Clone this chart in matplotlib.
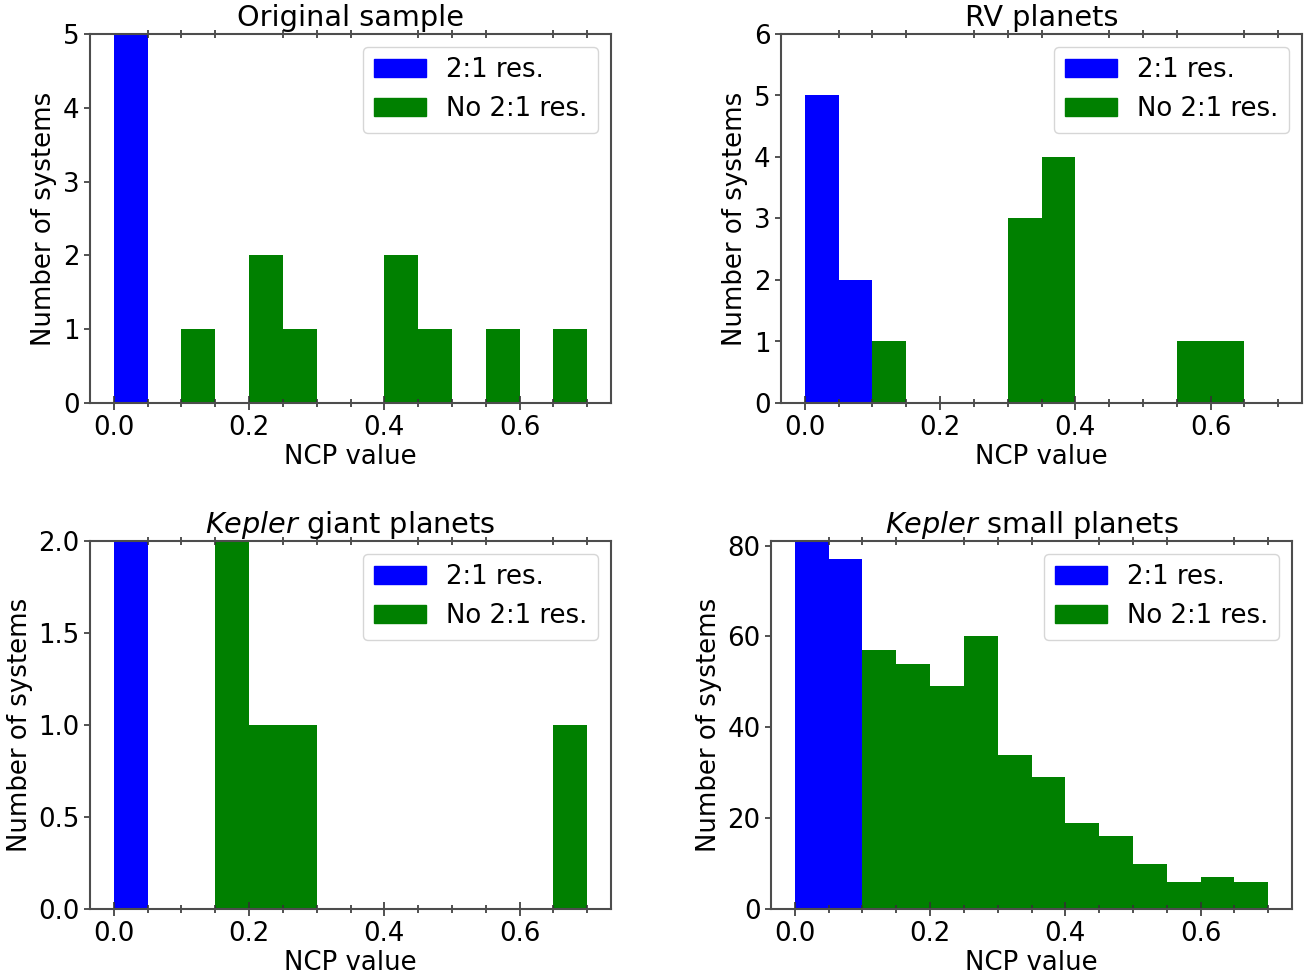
import numpy as np
import matplotlib
matplotlib.use("Agg")
import matplotlib.pyplot as plt
from matplotlib.ticker import MultipleLocator, FixedLocator, FormatStrFormatter
from matplotlib.patches import Patch

# ---- data ----
bin_edges = [0.0, 0.05, 0.10, 0.15, 0.20, 0.25, 0.30, 0.35, 0.40, 0.45, 0.50, 0.55, 0.60, 0.65, 0.70]

titles = ["Original sample", "RV planets",
          r"$\it{Kepler}$ giant planets", r"$\it{Kepler}$ small planets"]

# counts per bin: resonant (2:1) and all systems (drawn underneath)
res_orig = [5, 0, 0, 0, 0, 0, 0, 0, 0, 0, 0, 0, 0, 0]
all_orig = [5, 0, 1, 0, 2, 1, 0, 0, 2, 1, 0, 1, 0, 1]

res_rv = [5, 2, 0, 0, 0, 0, 0, 0, 0, 0, 0, 0, 0, 0]
all_rv = [5, 2, 1, 0, 0, 0, 3, 4, 0, 0, 0, 1, 1, 0]

res_kg = [2, 0, 0, 0, 0, 0, 0, 0, 0, 0, 0, 0, 0, 0]
all_kg = [2, 0, 0, 2, 1, 1, 0, 0, 0, 0, 0, 0, 0, 1]

res_ks = [81, 77, 0, 0, 0, 0, 0, 0, 0, 0, 0, 0, 0, 0]
all_ks = [81, 77, 57, 54, 49, 60, 34, 29, 19, 16, 10, 6, 7, 6]

res_sets = [res_orig, res_rv, res_kg, res_ks]
all_sets = [all_orig, all_rv, all_kg, all_ks]

ylims = [5, 6, 2, 81]
yticks = [[0, 1, 2, 3, 4, 5], [0, 1, 2, 3, 4, 5, 6],
          [0.0, 0.5, 1.0, 1.5, 2.0], [0, 20, 40, 60, 80]]
yfmt = ["%d", "%d", "%.1f", "%d"]
xticks_major = [0.0, 0.2, 0.4, 0.6]

legend_labels = ["2:1 res.", "No 2:1 res."]
c_res = "#0000ff"
c_no = "#008000"

W, H = 1309, 980
fig = plt.figure(figsize=(W / 100, H / 100), dpi=100)

# axes boxes in pixels: left, top, right, bottom
boxes = [(90, 34, 611, 403), (781, 34, 1302, 403),
         (90, 541, 611, 909), (771, 541, 1292, 909)]

FS = 18.7
edges = np.array(bin_edges)
centers = (edges[:-1] + edges[1:]) / 2

for i in range(4):
    l, t, r, b = boxes[i]
    ax = fig.add_axes([l / W, 1 - b / H, (r - l) / W, (b - t) / H])
    ax.hist(centers, bins=edges, weights=all_sets[i], color=c_no)
    ax.hist(centers, bins=edges, weights=res_sets[i], color=c_res)
    ax.set_xlim(-0.035, 0.735)
    ax.set_ylim(0, ylims[i])
    ax.xaxis.set_major_locator(FixedLocator(xticks_major))
    ax.xaxis.set_major_formatter(FormatStrFormatter("%.1f"))
    ax.xaxis.set_minor_locator(MultipleLocator(0.05))
    ax.yaxis.set_major_locator(FixedLocator(yticks[i]))
    ax.yaxis.set_major_formatter(FormatStrFormatter(yfmt[i]))
    ax.tick_params(axis="x", which="major", direction="inout", length=10, width=1.2,
                   bottom=True, top=False, labelsize=FS, color="0.2")
    ax.tick_params(axis="x", which="minor", direction="inout", length=6, width=1.2,
                   bottom=True, top=True, color="0.2")
    ax.tick_params(axis="y", which="major", direction="out", length=4, width=1.2,
                   left=True, right=False, labelsize=FS, color="0.2")
    for s in ax.spines.values():
        s.set_color("0.3")
        s.set_linewidth(1.5)
    ax.set_xlabel("NCP value", fontsize=FS, labelpad=2)
    ax.set_ylabel("Number of systems", fontsize=FS, labelpad=4)
    ax.set_title(titles[i], fontsize=20.7, pad=6)
    handles = [Patch(color=c_res), Patch(color=c_no)]
    ax.legend(handles, legend_labels, loc="upper right", fontsize=FS,
              handlelength=2.0, handleheight=0.7, borderaxespad=0.5)

fig.savefig("out.png", dpi=100)
